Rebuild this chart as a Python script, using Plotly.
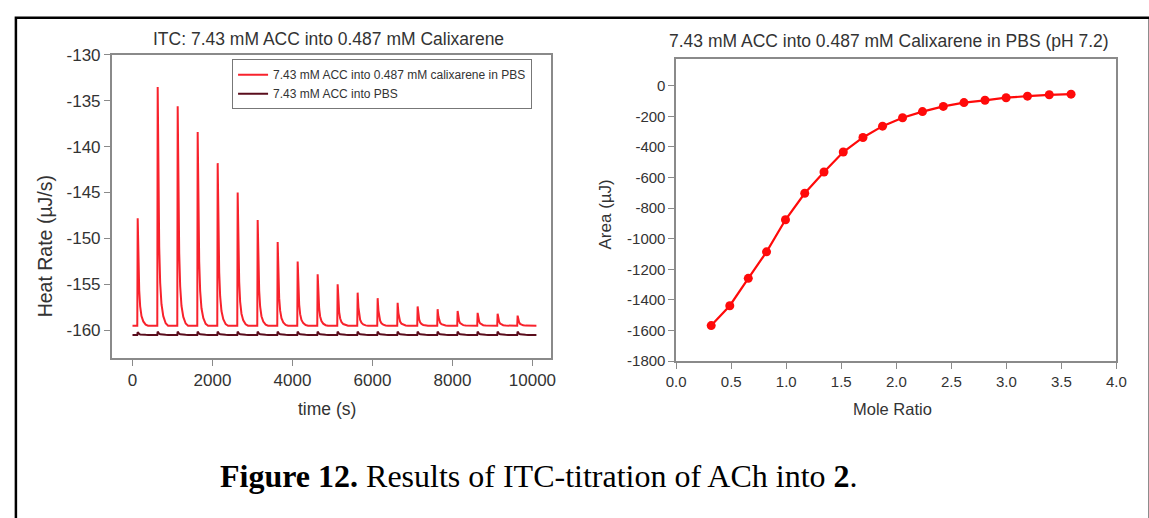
import plotly.graph_objects as go

W, H = 1149, 518

# ---------------- data: left panel (raw thermogram) ----------------
inj_times = [130, 630, 1130, 1630, 2130, 2630, 3130, 3630, 4130, 4630,
             5130, 5630, 6130, 6630, 7130, 7630, 8130, 8630, 9130, 9630]
peak_red = [-147.8, -133.5, -135.6, -138.4, -141.8, -145.0, -148.0, -150.4, -152.5, -153.9,
            -155.0, -155.9, -156.5, -157.0, -157.4, -157.7, -157.9, -158.1, -158.2, -158.4]
peak_dark = [-160.2, -160.15, -160.15, -160.15, -160.15, -160.15, -160.15, -160.15, -160.15, -160.15,
             -160.15, -160.15, -160.15, -160.15, -160.15, -160.15, -160.15, -160.15, -160.15, -160.15]
base_red = -159.5
base_dark = -160.5
t_start, t_end = 0, 10100

# decay profile of one injection peak (offset in s, fraction of peak height)
prof_dt = [-10, 0, 8, 20, 38, 62, 95, 140, 200, 260]
prof_fr = [0, 1, 0.8, 0.55, 0.33, 0.18, 0.09, 0.04, 0.01, 0]

def thermogram(base, peaks):
    xs, ys = [t_start], [base]
    for t, p in zip(inj_times, peaks):
        for dt, fr in zip(prof_dt, prof_fr):
            xs.append(t + dt)
            ys.append(base + (p - base) * fr)
    xs.append(t_end)
    ys.append(base)
    return xs, ys

# ---------------- data: right panel (integrated heats) ----------------
mole_ratio = [0.318, 0.487, 0.655, 0.821, 0.993, 1.168, 1.343, 1.518, 1.697, 1.875,
              2.057, 2.238, 2.427, 2.615, 2.806, 2.998, 3.192, 3.39, 3.588]
area = [-1568, -1438, -1259, -1086, -876, -703, -564, -433, -338, -264,
        -209, -169, -135, -110, -95, -78, -68, -59, -55]

left_xticks = [0, 2000, 4000, 6000, 8000, 10000]
left_xlabels = ["0", "2000", "4000", "6000", "8000", "10000"]
left_yticks = [-130, -135, -140, -145, -150, -155, -160]
left_ylabels = ["-130", "-135", "-140", "-145", "-150", "-155", "-160"]
right_xticks = [0, 0.5, 1.0, 1.5, 2.0, 2.5, 3.0, 3.5, 4.0]
right_xlabels = ["0.0", "0.5", "1.0", "1.5", "2.0", "2.5", "3.0", "3.5", "4.0"]
right_yticks = [0, -200, -400, -600, -800, -1000, -1200, -1400, -1600, -1800]
right_ylabels = ["0", "-200", "-400", "-600", "-800", "-1000", "-1200", "-1400", "-1600", "-1800"]

RED = "#f8222c"
DARK = "#5a0d1c"
AX = "#8a8a8a"
TXT = "#333333"
FONT = "Liberation Sans, Arial, sans-serif"

fig = go.Figure()
xr, yr = thermogram(base_red, peak_red)
xd, yd = thermogram(base_dark, peak_dark)
fig.add_trace(go.Scatter(x=xr, y=yr, mode="lines", line=dict(color=RED, width=2),
                         name="7.43 mM ACC into 0.487 mM calixarene in PBS", xaxis="x", yaxis="y"))
fig.add_trace(go.Scatter(x=xd, y=yd, mode="lines", line=dict(color=DARK, width=2),
                         name="7.43 mM ACC into PBS", xaxis="x", yaxis="y"))
fig.add_trace(go.Scatter(x=mole_ratio, y=area, mode="lines+markers",
                         line=dict(color="#ff0a0a", width=2.2),
                         marker=dict(color="#ff0a0a", size=9),
                         showlegend=False, xaxis="x2", yaxis="y2"))

def px_x(p):
    return p / W

def px_y(p):
    return 1 - p / H

axcommon = dict(showline=True, linecolor=AX, linewidth=1.5, mirror=True, ticks="outside",
                ticklen=6, tickwidth=1.2, tickcolor=AX, showgrid=False, zeroline=False)

fig.update_layout(
    width=W, height=H,
    margin=dict(l=0, r=0, t=0, b=0),
    paper_bgcolor="white", plot_bgcolor="white",
    font=dict(family=FONT, color=TXT),
    xaxis=dict(domain=[px_x(103.5), px_x(551)], range=[-520, 10475], tickvals=left_xticks,
               ticktext=left_xlabels, tickfont=dict(size=17, color=TXT), anchor="y", **axcommon),
    yaxis=dict(domain=[px_y(360.7), px_y(47.3)], range=[-163, -130], tickvals=left_yticks,
               ticktext=left_ylabels, tickfont=dict(size=17, color=TXT), anchor="x", **axcommon),
    xaxis2=dict(domain=[px_x(678), px_x(1126)], range=[0, 4], tickvals=right_xticks,
                ticktext=right_xlabels, tickfont=dict(size=15, color=TXT), anchor="y2", **axcommon),
    yaxis2=dict(domain=[px_y(364), px_y(51.7)], range=[-1800, 175], tickvals=right_yticks,
                ticktext=right_ylabels, tickfont=dict(size=15, color=TXT), anchor="x2", **axcommon),
    legend=dict(x=px_x(226), y=px_y(52), xanchor="left", yanchor="top",
                bgcolor="white", bordercolor="#777", borderwidth=1,
                font=dict(size=12, color=TXT), tracegroupgap=0, itemwidth=30),
    showlegend=True,
)

ann = [
    dict(text="ITC: 7.43 mM ACC into 0.487 mM Calixarene", x=px_x(324), y=px_y(31), size=17.5),
    dict(text="7.43 mM ACC into 0.487 mM Calixarene in PBS (pH 7.2)", x=px_x(895), y=px_y(33), size=17.5),
    dict(text="time (s)", x=px_x(323), y=px_y(414), size=17.5),
    dict(text="Mole Ratio", x=px_x(898), y=px_y(414), size=16.5),
]
for a in ann:
    fig.add_annotation(text=a["text"], x=a["x"], y=a["y"], xref="paper", yref="paper",
                       xanchor="center", yanchor="middle", showarrow=False,
                       font=dict(size=a["size"], color=TXT, family=FONT))
fig.add_annotation(text="Heat Rate (\u00b5J/s)", x=px_x(36), y=px_y(245), xref="paper", yref="paper",
                   textangle=-90, showarrow=False, xanchor="center", yanchor="middle",
                   font=dict(size=19.5, color=TXT, family=FONT))
fig.add_annotation(text="Area (\u00b5J)", x=px_x(606), y=px_y(212), xref="paper", yref="paper",
                   textangle=-90, showarrow=False, xanchor="center", yanchor="middle",
                   font=dict(size=17, color=TXT, family=FONT))
fig.add_annotation(text="<b>Figure 12.</b> Results of ITC-titration of ACh into <b>2</b>.",
                   x=px_x(538), y=px_y(483), xref="paper", yref="paper", showarrow=False,
                   xanchor="center", yanchor="middle",
                   font=dict(size=32, color="black", family="Liberation Serif, Times New Roman, serif"))

# outer frame of the figure
fig.add_shape(type="rect", xref="paper", yref="paper",
              x0=px_x(6), x1=px_x(1160), y0=px_y(530), y1=px_y(9),
              line=dict(color="black", width=2.5), fillcolor="rgba(0,0,0,0)", layer="above")

fig.write_html("out.html")
